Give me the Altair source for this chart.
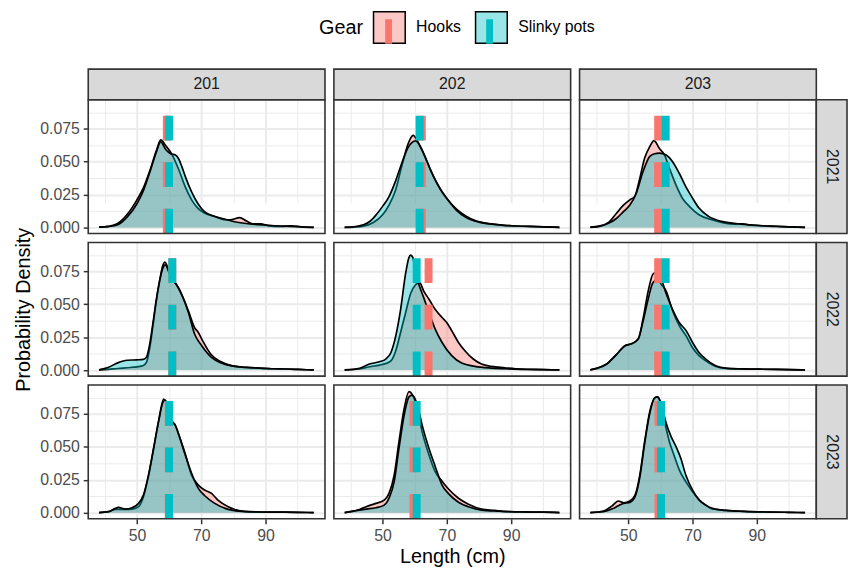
import altair as alt
import pandas as pd

FONT = "Liberation Sans"
SITES = ["201", "202", "203"]
YEARS = ["2021", "2022", "2023"]
GEARS = ["Hooks", "Slinky pots"]
GEAR_LINE_COLORS = ["#F8766D", "#00BFC4"]
GEAR_FILL_COLORS = ["rgba(248,118,109,0.4)", "rgba(0,191,196,0.4)"]

X_GRID = [40, 50, 60, 70, 80, 90, 100]
Y_GRID = [0.0, 0.0125, 0.025, 0.0375, 0.05, 0.0625, 0.075, 0.0875]

# ---- density curves (Length cm, density) ----
H_201_21_X = [38.2, 41, 44, 47, 50, 52, 54, 56, 57.4, 59, 61, 63, 65, 67, 69, 71, 74, 77, 79, 82, 84, 86, 88.5, 91, 95, 98, 101, 105]
H_201_21_Y = [0.0002, 0.0008, 0.003, 0.010, 0.021, 0.030, 0.043, 0.058, 0.0665, 0.062, 0.055, 0.044, 0.031, 0.021, 0.0145, 0.011, 0.0085, 0.006, 0.0058, 0.0075, 0.005, 0.0028, 0.0028, 0.0012, 0.0008, 0.0012, 0.0005, 0.0001]
S_201_21_X = [38.2, 41, 44, 47, 50, 52, 54, 56, 57.4, 59, 60.5, 62, 63, 64, 65, 67, 69, 71, 74, 77, 80, 84, 88, 92, 96, 100, 105]
S_201_21_Y = [0.0002, 0.0006, 0.002, 0.008, 0.018, 0.028, 0.042, 0.057, 0.065, 0.059, 0.056, 0.055, 0.052, 0.046, 0.039, 0.027, 0.018, 0.012, 0.0085, 0.0065, 0.0045, 0.003, 0.0022, 0.0015, 0.001, 0.0006, 0.0001]

H_202_21_X = [38.2, 41, 44, 47, 50, 52, 54, 56, 58, 59.5, 61, 63, 65, 67, 69, 71, 73, 76, 79, 82, 86, 90, 95, 100, 105]
H_202_21_Y = [0.0001, 0.0003, 0.001, 0.0035, 0.0096, 0.017, 0.028, 0.047, 0.064, 0.070, 0.065, 0.055, 0.043, 0.033, 0.025, 0.019, 0.014, 0.0085, 0.005, 0.0033, 0.002, 0.0013, 0.0008, 0.0005, 0.0001]
S_202_21_X = [38.2, 41, 44, 46, 48, 50, 52, 54, 56, 58, 60.3, 62, 64, 66, 68, 70, 73, 76, 80, 84, 88, 92, 96, 100, 105]
S_202_21_Y = [0.0001, 0.0005, 0.002, 0.0045, 0.0096, 0.016, 0.0235, 0.035, 0.049, 0.061, 0.0658, 0.060, 0.049, 0.038, 0.029, 0.022, 0.013, 0.0075, 0.004, 0.0025, 0.0016, 0.0011, 0.0008, 0.0005, 0.0001]

H_203_21_X = [38.2, 41, 44, 46.4, 48.5, 50.5, 52, 53.6, 55.1, 56.7, 58, 59.7, 61.3, 62.8, 64.9, 66.9, 69, 72, 76, 80, 83, 85.4, 88, 92, 96, 100, 105]
H_203_21_Y = [0.0002, 0.001, 0.004, 0.011, 0.017, 0.021, 0.0235, 0.0375, 0.0527, 0.0615, 0.066, 0.060, 0.055, 0.045, 0.032, 0.022, 0.016, 0.0096, 0.0058, 0.0033, 0.0025, 0.0028, 0.0018, 0.0012, 0.0008, 0.0005, 0.0001]
S_203_21_X = [38.2, 41, 44, 46.4, 48.5, 50.5, 52.5, 54.6, 56.7, 58.2, 59.7, 61.8, 63.8, 65.9, 67.9, 70, 72, 75, 79, 84, 88, 92, 96, 100, 105]
S_203_21_Y = [0.0001, 0.0008, 0.0033, 0.007, 0.012, 0.017, 0.026, 0.0425, 0.054, 0.056, 0.0565, 0.055, 0.050, 0.041, 0.031, 0.0223, 0.0147, 0.0084, 0.0046, 0.0028, 0.002, 0.0013, 0.0009, 0.0005, 0.0001]

H_201_22_X = [38.2, 41, 44, 47, 50, 52, 53, 54, 55, 56, 57, 58, 58.7, 60, 61, 62, 63, 64, 66, 68, 69, 70.5, 73, 76, 80, 84, 88, 92, 96, 100, 105]
H_201_22_Y = [0.0001, 0.0005, 0.0012, 0.0018, 0.0025, 0.0035, 0.006, 0.017, 0.034, 0.052, 0.067, 0.079, 0.082, 0.075, 0.069, 0.066, 0.062, 0.057, 0.045, 0.032, 0.029, 0.022, 0.012, 0.0065, 0.003, 0.002, 0.0015, 0.001, 0.0008, 0.0005, 0.0001]
S_201_22_X = [38.2, 41, 44, 47, 50, 52, 53, 54, 55, 56, 57, 58, 58.8, 60, 61, 62, 63, 64, 66, 68, 70, 73, 76, 80, 84, 88, 92, 96, 100, 105]
S_201_22_Y = [0.0002, 0.002, 0.0055, 0.0075, 0.0078, 0.0082, 0.010, 0.020, 0.036, 0.053, 0.067, 0.077, 0.080, 0.074, 0.068, 0.066, 0.062, 0.057, 0.044, 0.027, 0.019, 0.010, 0.0055, 0.003, 0.002, 0.0015, 0.001, 0.0008, 0.0005, 0.0001]

H_202_22_X = [38.2, 42.8, 45.9, 49, 51, 52.6, 54.1, 55.6, 57.2, 58.7, 60.3, 61.5, 62.8, 64.4, 66.4, 68.5, 70, 71.5, 73.6, 75.6, 78.2, 80.8, 83.8, 88, 93, 100, 105]
H_202_22_Y = [0.0001, 0.0008, 0.0025, 0.0038, 0.005, 0.007, 0.0147, 0.0286, 0.044, 0.058, 0.065, 0.0665, 0.060, 0.054, 0.046, 0.040, 0.036, 0.030, 0.021, 0.0147, 0.0084, 0.0046, 0.0028, 0.0018, 0.0008, 0.0004, 0.0001]
S_202_22_X = [38.2, 42.8, 45.9, 49, 51, 52.6, 54.1, 55.6, 57.2, 58.2, 58.7, 59.4, 60.3, 61.3, 62.8, 64.4, 66.4, 68.5, 71.5, 74.6, 78.7, 83.8, 88, 93, 100, 105]
S_202_22_Y = [0.0001, 0.0013, 0.0046, 0.0063, 0.0084, 0.0134, 0.026, 0.046, 0.074, 0.0856, 0.0874, 0.0856, 0.074, 0.065, 0.055, 0.044, 0.031, 0.021, 0.011, 0.0053, 0.0028, 0.0015, 0.001, 0.0006, 0.0003, 0.0001]

H_203_22_X = [38.2, 40.5, 43.3, 46.4, 49, 51, 53.1, 54.6, 56.2, 57.7, 58.7, 59.9, 61.8, 63.8, 65.9, 68, 70, 72, 74.1, 77.2, 80.3, 85, 90, 96, 100, 105]
H_203_22_Y = [0.0002, 0.0015, 0.0046, 0.012, 0.0185, 0.020, 0.0236, 0.039, 0.060, 0.073, 0.0742, 0.0666, 0.060, 0.045, 0.0337, 0.026, 0.017, 0.011, 0.007, 0.0028, 0.0013, 0.0009, 0.0007, 0.0005, 0.0004, 0.0001]
S_203_22_X = [38.2, 40.5, 43.3, 46.4, 49, 51, 53.1, 54.6, 56.2, 57.7, 59.2, 60.3, 61.8, 63.8, 65.9, 68, 70, 72, 74.1, 77.2, 80.3, 85, 90, 96, 100, 105]
S_203_22_Y = [0.0002, 0.0015, 0.0046, 0.012, 0.0185, 0.020, 0.0236, 0.037, 0.054, 0.0666, 0.069, 0.068, 0.058, 0.046, 0.036, 0.030, 0.021, 0.0134, 0.0084, 0.0033, 0.0015, 0.0009, 0.0007, 0.0005, 0.0004, 0.0001]

H_201_23_X = [38.2, 41.2, 43.3, 46.4, 48.5, 50.5, 52, 53.6, 55.2, 56.7, 58.3, 59.8, 60.8, 61.9, 63.4, 65, 67, 69.1, 71.1, 73.2, 75.2, 78.4, 83.5, 90, 96, 100, 105]
H_201_23_Y = [0.0001, 0.0008, 0.0025, 0.0025, 0.0028, 0.0046, 0.012, 0.028, 0.049, 0.069, 0.0864, 0.079, 0.070, 0.0666, 0.0565, 0.045, 0.0286, 0.021, 0.0172, 0.0147, 0.0096, 0.0046, 0.001, 0.0005, 0.0004, 0.0003, 0.0001]
S_201_23_X = [38.2, 41.2, 43.3, 44.3, 46.4, 48.5, 50.5, 52, 53.6, 55.2, 56.7, 58.2, 58.8, 59.8, 60.8, 61.9, 63.4, 65, 67, 69.1, 71.1, 74.2, 78.4, 83.5, 90, 96, 100, 105]
S_201_23_Y = [0.0001, 0.0008, 0.0033, 0.004, 0.0028, 0.0038, 0.0071, 0.0134, 0.0286, 0.049, 0.069, 0.0844, 0.0856, 0.079, 0.070, 0.0666, 0.0565, 0.044, 0.030, 0.0185, 0.0129, 0.0071, 0.0025, 0.0008, 0.0005, 0.0004, 0.0003, 0.0001]

H_202_23_X = [38.2, 40.5, 42.8, 44.9, 47.9, 50.5, 52, 53.6, 55.1, 56.7, 58.2, 59.4, 60.8, 62.3, 64.4, 66.4, 68.5, 70.5, 73.6, 76.7, 80.8, 84.9, 88, 93, 100, 105]
H_202_23_Y = [0.0001, 0.001, 0.0025, 0.0046, 0.0071, 0.0096, 0.0147, 0.0286, 0.054, 0.079, 0.092, 0.089, 0.079, 0.0616, 0.044, 0.031, 0.024, 0.018, 0.011, 0.0065, 0.0028, 0.0018, 0.0009, 0.0006, 0.0004, 0.0001]
S_202_23_X = [38.2, 40.5, 42.8, 44.9, 47.9, 50.5, 52, 53.6, 55.1, 56.7, 58.2, 59.2, 60.8, 62.3, 64.4, 66.4, 68.5, 70.5, 73.6, 76.7, 80.8, 86, 93, 100, 105]
S_202_23_Y = [0.0001, 0.001, 0.002, 0.0028, 0.0038, 0.0058, 0.011, 0.0236, 0.049, 0.074, 0.088, 0.0894, 0.082, 0.0666, 0.049, 0.035, 0.021, 0.0145, 0.008, 0.0045, 0.002, 0.0012, 0.0006, 0.0004, 0.0001]

H_203_23_X = [38.2, 42.3, 44.9, 46.9, 48.5, 50.5, 52.1, 53.6, 55.1, 56.7, 58.2, 58.9, 59.9, 61.3, 62.8, 64.4, 65.9, 67.9, 70, 72.1, 74.1, 76.2, 80.3, 86, 94, 100, 105]
H_203_23_Y = [0.0001, 0.0013, 0.005, 0.0089, 0.0076, 0.0089, 0.0134, 0.0286, 0.054, 0.077, 0.087, 0.088, 0.0844, 0.069, 0.054, 0.0426, 0.0324, 0.0236, 0.016, 0.0096, 0.0058, 0.0028, 0.0018, 0.001, 0.0005, 0.0003, 0.0001]
S_203_23_X = [38.2, 42.3, 44.9, 46.9, 48.5, 50.5, 52.1, 53.6, 55.1, 56.7, 58.2, 59.2, 60.3, 61.8, 63.3, 64.9, 66.4, 67.9, 70, 72.1, 74.1, 76.2, 80.3, 86, 94, 100, 105]
S_203_23_Y = [0.0001, 0.0008, 0.0028, 0.0053, 0.0071, 0.0079, 0.012, 0.027, 0.0527, 0.0755, 0.0874, 0.088, 0.082, 0.068, 0.058, 0.050, 0.041, 0.0286, 0.0172, 0.0096, 0.0058, 0.0033, 0.0018, 0.001, 0.0005, 0.0003, 0.0001]

CURVES = {
    ("201", "2021"): [(H_201_21_X, H_201_21_Y), (S_201_21_X, S_201_21_Y)],
    ("202", "2021"): [(H_202_21_X, H_202_21_Y), (S_202_21_X, S_202_21_Y)],
    ("203", "2021"): [(H_203_21_X, H_203_21_Y), (S_203_21_X, S_203_21_Y)],
    ("201", "2022"): [(H_201_22_X, H_201_22_Y), (S_201_22_X, S_201_22_Y)],
    ("202", "2022"): [(H_202_22_X, H_202_22_Y), (S_202_22_X, S_202_22_Y)],
    ("203", "2022"): [(H_203_22_X, H_203_22_Y), (S_203_22_X, S_203_22_Y)],
    ("201", "2023"): [(H_201_23_X, H_201_23_Y), (S_201_23_X, S_201_23_Y)],
    ("202", "2023"): [(H_202_23_X, H_202_23_Y), (S_202_23_X, S_202_23_Y)],
    ("203", "2023"): [(H_203_23_X, H_203_23_Y), (S_203_23_X, S_203_23_Y)],
}

# mean length per panel (rows = years, columns = sites)
MEAN_HOOKS = [[59.3, 62.2, 59.3], [61.0, 64.3, 59.3], [59.9, 59.6, 59.4]]
MEAN_SLINKY = [[60.0, 61.5, 61.65], [61.0, 60.6, 61.65], [60.0, 60.6, 60.2]]

# ---- layout / style ----
W, H = 239, 135
SP = 9
STRIP = 31
XDOM = [34.85, 108.5]
YDOM = [-0.00462, 0.0970]
LEG_X, LEG_Y = 233, -59
BAR1_X, BAR2_X = LEG_X + 53.2, LEG_X + 155.2
BORDER = "#333333"
STRIP_FILL = "#D9D9D9"
# legend key bar: a few tightly packed vertical strokes forming a solid bar
KEY_BAR = "".join(f"M{dx},-0.52L{dx},1.02" for dx in (-0.17, -0.085, 0, 0.085, 0.17))

X_MAJOR = "datum.value % 20 == 10"
Y_MAJOR = "round(datum.value * 1000) % 25 == 0"

fill_scale = alt.Scale(domain=GEARS, range=GEAR_FILL_COLORS)
hooks_scale = alt.Scale(domain=GEARS[:1], range=GEAR_LINE_COLORS[:1])
slinky_scale = alt.Scale(domain=GEARS[1:], range=GEAR_LINE_COLORS[1:])

fill_legend = alt.Legend(orient="none", legendX=LEG_X, legendY=LEG_Y, direction="horizontal",
                         title="Gear", titleOrient="left", titleAnchor="middle", titleBaseline="middle",
                         titleFontSize=20, titleFontWeight="normal", titleColor="black", titlePadding=9,
                         labelFontSize=16, labelColor="black", labelOffset=10, columnPadding=11,
                         symbolSize=1024, symbolStrokeWidth=1.5, padding=0,
                         symbolType="square", symbolStrokeColor="black")


def bar_legend(lx):
    return alt.Legend(orient="none", legendX=lx, legendY=LEG_Y, direction="horizontal", title=None,
                      labelExpr="''", labelFontSize=1, labelOffset=0, symbolSize=1024,
                      symbolStrokeWidth=1.5, symbolType=KEY_BAR, symbolFillColor="transparent",
                      symbolOpacity=1, padding=0)


def panel(ri, ci):
    site, year = SITES[ci], YEARS[ri]
    rows = []
    for g, (xs, ys) in zip(GEARS, CURVES[(site, year)]):
        for xv, yv in zip(xs, ys):
            rows.append({"Length": xv, "Density": yv, "Gear": g})
    df = pd.DataFrame(rows)
    mdf = pd.DataFrame({"Gear": GEARS, "Mean": [MEAN_HOOKS[ri][ci], MEAN_SLINKY[ri][ci]]})
    bottom = ri == 2
    left = ci == 0
    has_top = ri == 0
    has_right = ci == 2
    tw = W + (STRIP if has_right else 0)
    th = H + (STRIP if has_top else 0)
    ptop = th - H

    xkw = dict(values=X_GRID, grid=True, gridColor="#EBEBEB",
               gridWidth={"condition": {"test": X_MAJOR, "value": 2}, "value": 1},
               domain=False, labelOverlap=False, labelFlush=False)
    if bottom:
        xkw.update(labels=True, labelExpr=f"{X_MAJOR} ? datum.label : ''", ticks=True, tickSize=5,
                   tickWidth=1.5, tickColor=BORDER,
                   tickOpacity={"condition": {"test": X_MAJOR, "value": 1}, "value": 0},
                   labelFontSize=16, labelColor="#4D4D4D", labelPadding=4,
                   titleFontSize=20, titleFontWeight="normal", titleColor="black", titlePadding=3)
    else:
        xkw.update(labels=False, ticks=False)
    ykw = dict(values=Y_GRID, grid=True, gridColor="#EBEBEB",
               gridWidth={"condition": {"test": Y_MAJOR, "value": 2}, "value": 1},
               domain=False, labelOverlap=False, labelFlush=False, format=".3f")
    if left:
        ykw.update(labels=True, labelExpr=f"{Y_MAJOR} ? datum.label : ''", ticks=True, tickSize=5,
                   tickWidth=1.5, tickColor=BORDER,
                   tickOpacity={"condition": {"test": Y_MAJOR, "value": 1}, "value": 0},
                   labelFontSize=16, labelColor="#4D4D4D", labelPadding=4,
                   titleFontSize=20, titleFontWeight="normal", titleColor="black", titlePadding=6)
    else:
        ykw.update(labels=False, ticks=False)
    xtitle = "Length (cm)" if (bottom and ci == 1) else None
    ytitle = "Probability Density" if (left and ri == 1) else None
    xscale = alt.Scale(domain=XDOM, range=[0, W], nice=False, zero=False)
    yscale = alt.Scale(domain=YDOM, range=[th, ptop], nice=False, zero=False)
    X = alt.X("Length:Q", scale=xscale, axis=alt.Axis(**xkw), title=xtitle)
    Y = alt.Y("Density:Q", scale=yscale, axis=alt.Axis(**ykw), title=ytitle)

    base = alt.Chart(df).encode(x=X, y=Y)
    layers = []
    for g in GEARS:
        sub = base.transform_filter(alt.datum.Gear == g)
        layers.append(sub.mark_area(interpolate="monotone").encode(
            y2=alt.datum(0),
            fill=alt.Fill("Gear:N", scale=fill_scale, legend=fill_legend)))
        layers.append(sub.mark_line(interpolate="monotone", color="black", strokeWidth=1.7,
                                    strokeJoin="round"))
    mbase = alt.Chart(mdf).mark_rule(strokeWidth=8, strokeDash=[25, 22]).encode(
        x=alt.X("Mean:Q", scale=xscale, axis=alt.Axis(**xkw), title=xtitle),
        y=alt.value(th), y2=alt.value(ptop))
    layers.append(mbase.transform_filter(alt.datum.Gear == GEARS[0]).encode(
        stroke=alt.Stroke("Gear:N", scale=hooks_scale, legend=bar_legend(BAR1_X))))
    layers.append(mbase.transform_filter(alt.datum.Gear == GEARS[1]).encode(
        color=alt.Color("Gear:N", scale=slinky_scale, legend=bar_legend(BAR2_X))))

    one = pd.DataFrame({"site": [site], "year": [year]})
    # panel border
    layers.append(alt.Chart(one).mark_rect(fill="transparent", stroke=BORDER, strokeWidth=1.6).encode(
        x=alt.value(0), x2=alt.value(W), y=alt.value(ptop), y2=alt.value(th)))
    if has_top:
        layers.append(alt.Chart(one).mark_rect(fill=STRIP_FILL, stroke=BORDER, strokeWidth=1.6).encode(
            x=alt.value(0), x2=alt.value(W), y=alt.value(0), y2=alt.value(STRIP)))
        layers.append(alt.Chart(one).mark_text(font=FONT, fontSize=16, color="#1A1A1A",
                                               baseline="middle", align="center").encode(
            text="site:N", x=alt.value(W / 2), y=alt.value(STRIP / 2)))
    if has_right:
        layers.append(alt.Chart(one).mark_rect(fill=STRIP_FILL, stroke=BORDER, strokeWidth=1.6).encode(
            x=alt.value(W), x2=alt.value(W + STRIP), y=alt.value(ptop), y2=alt.value(th)))
        layers.append(alt.Chart(one).mark_text(font=FONT, fontSize=16, color="#1A1A1A", angle=90,
                                               baseline="middle", align="center").encode(
            text="year:N", x=alt.value(W + STRIP / 2), y=alt.value(ptop + H / 2)))
    return alt.layer(*layers).properties(width=tw, height=th)


cells = [panel(ri, ci) for ri in range(3) for ci in range(3)]
chart = alt.concat(*cells, columns=3, spacing=SP, align="each", bounds="flush").properties(
    padding={"left": 5, "top": 0, "right": 0, "bottom": 0}
).configure_view(
    stroke="transparent", strokeWidth=0
).configure_axis(
    labelFont=FONT, titleFont=FONT
).configure_legend(
    labelFont=FONT, titleFont=FONT
).configure_text(font=FONT)

chart.save("out.html", embed_options={"renderer": "svg", "actions": False})
